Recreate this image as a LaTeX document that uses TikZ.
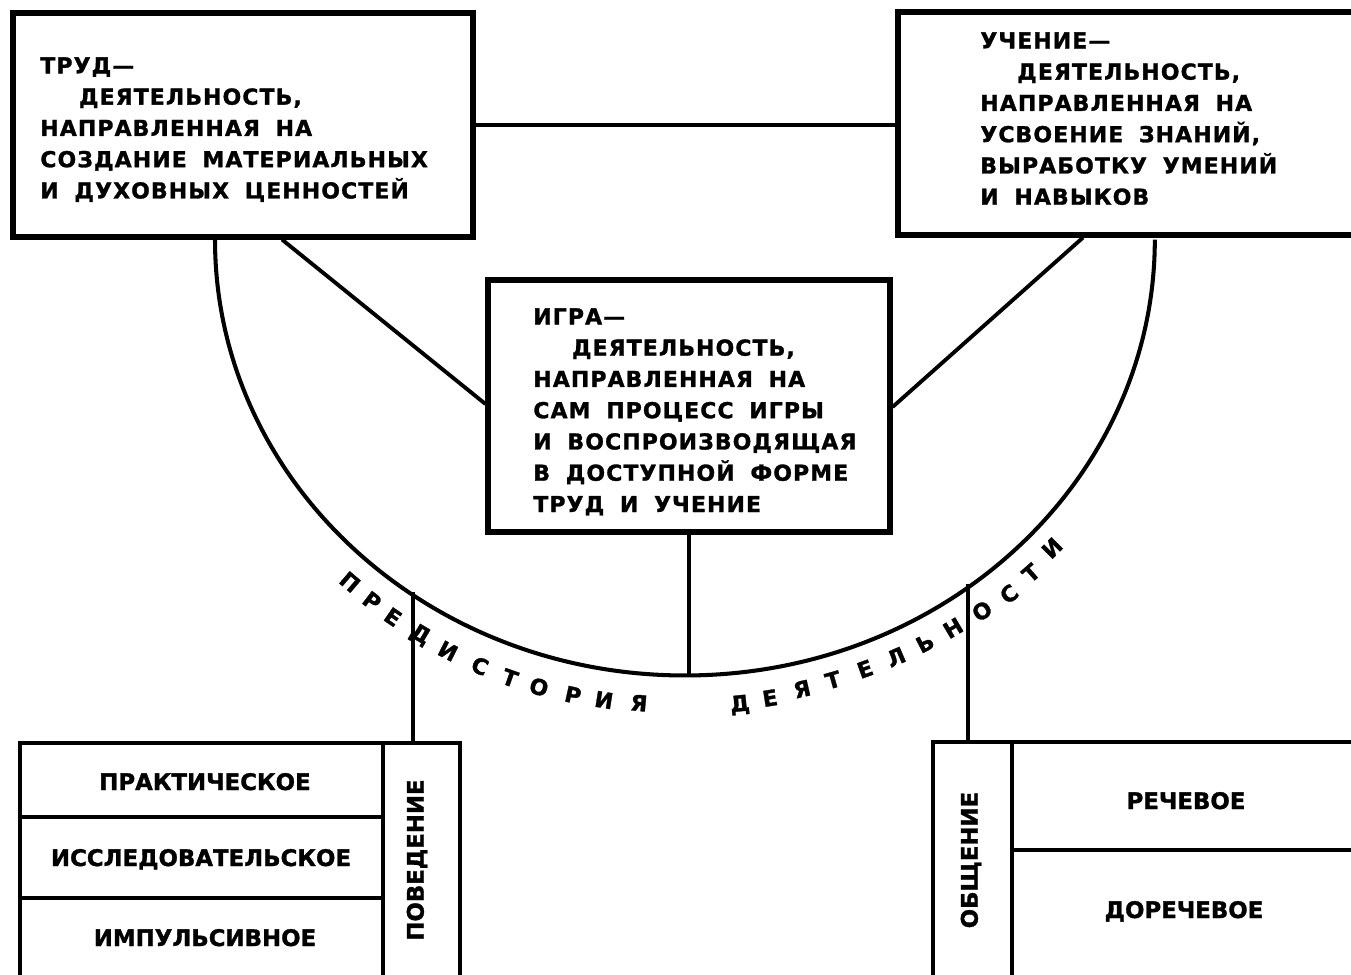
\documentclass[tikz,border=0pt]{standalone}
\usepackage{fontspec}
\usetikzlibrary{fit}
\newfontfamily\boxfont{DejaVu Sans Bold}[LetterSpace=5,WordSpace=1.8,FakeBold=1.3]
\newfontfamily\labfont{DejaVu Sans Bold}[FakeBold=1.3]
\begin{document}
\begin{tikzpicture}[x=0.02cm,y=-0.02cm,
  frame/.style={draw, line width=2.9pt, inner sep=0pt},
  cell/.style={draw, line width=2.7pt, inner sep=0pt},
  celltxt/.style={font=\labfont\fontsize{13}{14}\selectfont, inner sep=0pt},
  conn/.style={line width=2.2pt},
  txt/.style={font=\boxfont\fontsize{12.5}{17.8}\selectfont, align=left, inner sep=0pt, anchor=north west},
  arctxt/.style={font=\labfont\fontsize{12.5}{13}\selectfont, inner sep=0pt}]
\useasboundingbox (0,0) rectangle (1351,974);
\clip (0,0) rectangle (1351,974);
% main boxes
\node[frame, fit={(13,13) (473,237)}] (trud) {};
\node[frame, fit={(898,12) (1365,235)}] (uch) {};
\node[frame, fit={(488,280) (890,532)}] (igra) {};
\node[txt] (trudtxt) at (40,57) {ТРУД—\\\hspace*{22pt}ДЕЯТЕЛЬНОСТЬ,\\НАПРАВЛЕННАЯ НА\\СОЗДАНИЕ МАТЕРИАЛЬНЫХ\\И ДУХОВНЫХ ЦЕННОСТЕЙ};
\node[txt] (uchtxt) at (980,32) {УЧЕНИЕ—\\\hspace*{21pt}ДЕЯТЕЛЬНОСТЬ,\\НАПРАВЛЕННАЯ НА\\УСВОЕНИЕ ЗНАНИЙ,\\ВЫРАБОТКУ УМЕНИЙ\\И НАВЫКОВ};
\node[txt] (igratxt) at (533,308) {ИГРА—\\\hspace*{22pt}ДЕЯТЕЛЬНОСТЬ,\\НАПРАВЛЕННАЯ НА\\САМ ПРОЦЕСС ИГРЫ\\И ВОСПРОИЗВОДЯЩАЯ\\В ДОСТУПНОЙ ФОРМЕ\\ТРУД И УЧЕНИЕ};
% connectors between main boxes
\draw[conn] (trud.east) -- (trud.east -| uch.west);
\draw[conn] (trud.south -| 282,0) -- (igra.west |- 0,404);
\draw[conn] (uch.south -| 1083,0) -- (igra.east |- 0,407);
% arc
\draw[line width=2.3pt] (trud.south -| 215,0) arc[start angle=180, end angle=360, x radius=9.4cm, y radius=8.72cm];
\coordinate (arcbot) at (689,674);
\coordinate (arcL) at (413,592);
\coordinate (arcR) at (968,584);
\draw[conn] (igra.south) -- (arcbot);
% bottom left box
\node[cell, fit={(20,743) (383,817)}] (prakt) {};
\node[cell, fit={(20,817) (383,898)}] (issl) {};
\node[cell, fit={(20,898) (383,980)}] (imp) {};
\node[cell, fit={(383,743) (460,980)}] (pov) {};
\node[celltxt, anchor=base] (prakttxt) at (205,790) {ПРАКТИЧЕСКОЕ};
\node[celltxt, anchor=base] (issltxt) at (201,866) {ИССЛЕДОВАТЕЛЬСКОЕ};
\node[celltxt, anchor=base] (imptxt) at (205,946) {ИМПУЛЬСИВНОЕ};
\node[celltxt, rotate=90] (povtxt) at (417,860) {ПОВЕДЕНИЕ};
% bottom right box
\node[cell, fit={(933,742) (1012,980)}] (obsh) {};
\node[cell, fit={(1012,742) (1365,850)}] (rech) {};
\node[cell, fit={(1012,850) (1365,980)}] (dorech) {};
\node[celltxt, rotate=90] (obshtxt) at (971,860) {ОБЩЕНИЕ};
\node[celltxt, anchor=base] (rechtxt) at (1186,809) {РЕЧЕВОЕ};
\node[celltxt, anchor=base] (dorechtxt) at (1184,918) {ДОРЕЧЕВОЕ};
\draw[conn] (arcL) -- (pov.north -| arcL);
\draw[conn] (arcR) -- (obsh.north -| arcR);
% text along the arc
\foreach \l/\x/\y/\r [count=\i] in {П/350/582/-40.5, Р/372/601/-37.2, Е/393/617/-34.4, Д/420/635/-30.6, И/448/651/-27, С/480/666/-23.1, Т/510/678/-19.5, О/539/687/-16.3, Р/573/695/-12.4, И/604/700/-9.1, Я/639/703/-5.3, Д/740/705/5.7, Е/770/698/9, Я/802/689/12.6, Т/833/680/16, Е/865/669/19.6, Л/896/657/23.4, Ь/925/643/26.9, Н/953/628/30.5, О/982/611/34.5, С/1009/594/38.4, Т/1031/573/41.4, И/1052/548/45}
  \node[arctxt, rotate=\r] (arcl\i) at (\x,\y) {\l};
\end{tikzpicture}
\end{document}
